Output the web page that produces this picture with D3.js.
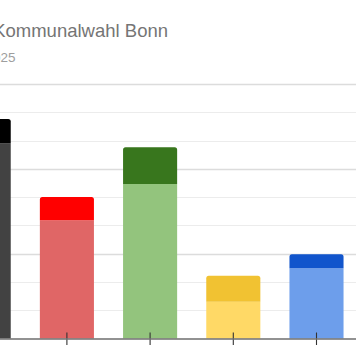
<!DOCTYPE html>
<html><head><meta charset="utf-8">
<script src="https://cdn.jsdelivr.net/npm/d3@7"></script>
<style>html,body{margin:0;padding:0;background:#fff;overflow:hidden}</style>
</head><body>
<svg id="c" width="356" height="364"></svg>
<script>
const categories = ["CDU", "SPD", "Grüne", "FDP", "AfD"];
const baseValues = [34.5, 20.9, 27.3, 6.5, 12.4];
const topValues  = [4.3, 4.1, 6.5, 4.6, 2.5];
const lightColors = ["#424242", "#e06666", "#93c47d", "#ffd966", "#6d9eeb"];
const darkColors  = ["#000000", "#ff0000", "#38761d", "#f1c232", "#1155cc"];
const yTicks = [0, 5, 10, 15, 20, 25, 30, 35, 40, 45];
const majorTicks = [15, 30, 45];
const titleText = "Kommunalwahl Bonn";
const subtitleText = "2025";

const svg = d3.select("#c");
const x = d3.scaleBand().domain(categories).range([-57.9, 358.1]).paddingInner(0.35).paddingOuter(0.175);
const y = d3.scaleLinear().domain([0, 45]).range([338.5, 84]);

// gridlines
svg.append("g").selectAll("line").data(yTicks.filter(d => d > 0)).join("line")
  .attr("x1", -60).attr("x2", 360)
  .attr("y1", d => Math.round(y(d)) + 0.5).attr("y2", d => Math.round(y(d)) + 0.5)
  .attr("stroke", d => majorTicks.includes(d) ? "#dcdcdc" : "#ececec")
  .attr("stroke-width", d => majorTicks.includes(d) ? 1.4 : 1);

const rows = categories.map((c, i) => ({cat: c, base: baseValues[i], top: topValues[i]}));
const stack = d3.stack().keys(["base", "top"]);
const series = stack(rows);

function roundTop(x0, y0, w, h, r) {
  r = Math.min(r, h);
  return `M${x0},${y0 + h}V${y0 + r}Q${x0},${y0} ${x0 + r},${y0}H${x0 + w - r}Q${x0 + w},${y0} ${x0 + w},${y0 + r}V${y0 + h}Z`;
}

const g = svg.append("g");
series.forEach((s, si) => {
  g.selectAll(null).data(s).join("path")
    .attr("d", d => {
      const x0 = x(d.data.cat), w = x.bandwidth();
      const y0 = y(d[1]), h = y(d[0]) - y(d[1]);
      return si === 1 ? roundTop(x0, y0, w, h, 2.5) : `M${x0},${y0}h${w}v${h}h${-w}Z`;
    })
    .attr("fill", (d, i) => si === 0 ? lightColors[i] : darkColors[i]);
});

// x axis
const xAxis = d3.axisBottom(x).tickSize(0).tickFormat("");
const ax = svg.append("g").attr("transform", "translate(0,339)").call(xAxis);
ax.select(".domain").remove();
ax.append("line").attr("x1", -60).attr("x2", 360).attr("y1", 0).attr("y2", 0)
  .attr("stroke", "#6e6e6e").attr("stroke-width", 1.6);
ax.selectAll(".tick").append("line").attr("y1", -6.5).attr("y2", 6).attr("stroke", "#333").attr("stroke-width", 1.1);

// titles
svg.append("text").attr("font-family", "Arial, Liberation Sans, sans-serif")
  .attr("font-size", 18.5).attr("fill", "#757575").attr("y", 37).attr("text-anchor", "end").attr("x", 168).text(titleText);
svg.append("text").attr("font-family", "Arial, Liberation Sans, sans-serif")
  .attr("font-size", 13.5).attr("fill", "#9e9e9e").attr("y", 62).attr("text-anchor", "end").attr("x", 15.5).text(subtitleText);
</script>
</body></html>
